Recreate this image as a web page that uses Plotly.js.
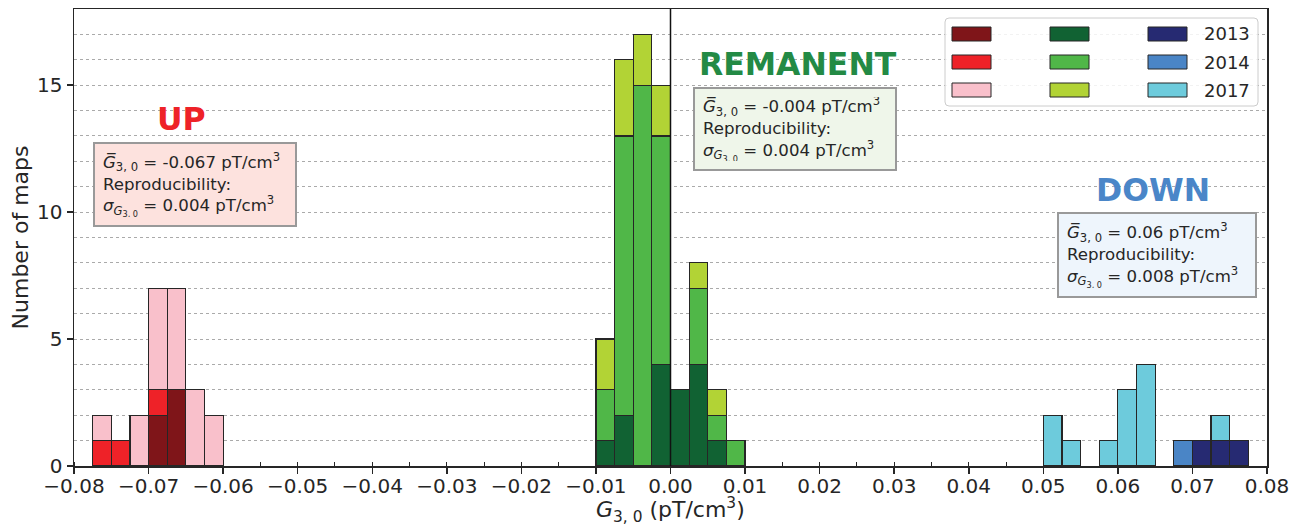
<!DOCTYPE html>
<html>
<head>
<meta charset="utf-8">
<script src="https://cdn.plot.ly/plotly-3.0.1.min.js"></script>
<style>html,body{margin:0;padding:0;background:#fff;}#chart{width:1302px;height:526px;}</style>
</head>
<body>
<div id="chart"></div>
<script>
// ---- data (bin centres, bin width 0.0025 pT/cm^3) ----
const binWidth = 0.0025;
const upBins   = [-0.07625, -0.07375, -0.07125, -0.06875, -0.06625, -0.06375, -0.06125];
const up2013   = [0, 0, 0, 2, 3, 0, 0];
const up2014   = [1, 1, 0, 1, 0, 0, 0];
const up2017   = [1, 0, 2, 4, 4, 3, 2];

const remBins  = [-0.00875, -0.00625, -0.00375, -0.00125, 0.00125, 0.00375, 0.00625, 0.00875];
const rem2013  = [1, 2, 0, 4, 3, 4, 1, 0];
const rem2014  = [2, 11, 15, 9, 0, 3, 1, 1];
const rem2017  = [2, 3, 2, 2, 0, 1, 1, 0];

const downBins = [0.05125, 0.05375, 0.05875, 0.06125, 0.06375, 0.06875, 0.07125, 0.07375, 0.07625];
const down2013 = [0, 0, 0, 0, 0, 0, 1, 1, 1];
const down2014 = [0, 0, 0, 0, 0, 1, 0, 0, 0];
const down2017 = [2, 1, 1, 3, 4, 0, 0, 1, 0];

const years = ['2013', '2014', '2017'];
const xTickVals = [-0.08, -0.07, -0.06, -0.05, -0.04, -0.03, -0.02, -0.01, 0, 0.01, 0.02, 0.03, 0.04, 0.05, 0.06, 0.07, 0.08];
const yTickVals = [0, 5, 10, 15];

const groupLabels = ['UP', 'REMANENT', 'DOWN'];
const groupMeans  = ['-0.067', '-0.004', '0.06'];
const groupSigmas = ['0.004', '0.004', '0.008'];
const xTitle = '<i>G</i><sub>3, 0</sub> (pT/cm<sup>3</sup>)';
const yTitle = 'Number of maps';

// ---- styles ----
const colors = {
  up:   ['#7f1519', '#ee2228', '#f9c0cb'],
  rem:  ['#116233', '#50b748', '#b2d335'],
  down: ['#262a72', '#4a85c6', '#6dcbdc']
};
const labelColors = ['#ee2228', '#238a45', '#4a86c8'];
const boxFills = ['#fde2de', '#eff6ea', '#eef5fc'];
const ink = '#262626';
const FONT = 'DejaVu Sans, sans-serif';

// geometry helpers (plot area in pixels)
const W = 1302, H = 526, L = 74, R = 35, T = 9, B = 60;
const PW = W - L - R, PH = H - T - B;
const px = v => (v - L) / PW;
const py = v => (H - B - v) / PH;

function barTrace(x, y, color, name) {
  return {
    type: 'bar', x: x, y: y, width: binWidth, name: name,
    marker: {color: color, line: {color: ink, width: 1.2}},
    showlegend: false, hoverinfo: 'skip'
  };
}

const traces = [];
[[upBins, [up2013, up2014, up2017], colors.up],
 [remBins, [rem2013, rem2014, rem2017], colors.rem],
 [downBins, [down2013, down2014, down2017], colors.down]].forEach(g => {
  g[1].forEach((vals, i) => traces.push(barTrace(g[0], vals, g[2][i], years[i])));
});

// ---- annotations ----
const annotations = [];
const labelPos = [[181, 119], [798, 64], [1153, 190]];
groupLabels.forEach((t, i) => {
  annotations.push({
    xref: 'paper', yref: 'paper', x: px(labelPos[i][0]), y: py(labelPos[i][1]),
    xanchor: 'center', yanchor: 'middle', showarrow: false,
    text: '<b>' + t + '</b>',
    font: {family: FONT, size: 31.5, color: labelColors[i]}
  });
});
const boxes = [[93, 142, 297, 227], [693, 87, 897, 171], [1057, 212, 1257, 298]];
const BW = 2, BP = 8;
groupLabels.forEach((t, i) => {
  const b = boxes[i];
  annotations.push({
    xref: 'paper', yref: 'paper', x: px(b[0]), y: py(b[1]),
    xanchor: 'left', yanchor: 'top', showarrow: false, align: 'left', valign: 'middle',
    width: b[2] - b[0] - 2 * (BW + BP), height: b[3] - b[1] - 2 * (BW + BP),
    bgcolor: boxFills[i], bordercolor: '#999999', borderwidth: BW, borderpad: BP,
    text: '<i>G\u0305</i><sub>3, 0</sub> = ' + groupMeans[i] + ' pT/cm<sup>3</sup><br>' +
          'Reproducibility:<br>' +
          '<i>\u03c3</i><sub><i>G</i><sub>3, 0</sub></sub> = ' + groupSigmas[i] + ' pT/cm<sup>3</sup>',
    font: {family: FONT, size: 16.6, color: ink}
  });
});
// x-axis title (placed in the bottom margin like the reference)
annotations.push({xref: 'paper', yref: 'paper', x: 0.5, y: py(510), xanchor: 'center', yanchor: 'middle',
  showarrow: false, text: xTitle, font: {family: FONT, size: 22, color: ink}});

// ---- manual legend (3 columns, labels in last column) ----
const shapes = [];
shapes.push({type: 'path', xref: 'paper', yref: 'paper',
  path: (function () {
    const x0 = 945, x1 = 1258, y0 = 18, y1 = 106, r = 4;
    const P = (a, b) => px(a) + ',' + py(b);
    return 'M' + P(x0 + r, y0) + ' L' + P(x1 - r, y0) + ' Q' + P(x1, y0) + ' ' + P(x1, y0 + r) +
      ' L' + P(x1, y1 - r) + ' Q' + P(x1, y1) + ' ' + P(x1 - r, y1) +
      ' L' + P(x0 + r, y1) + ' Q' + P(x0, y1) + ' ' + P(x0, y1 - r) +
      ' L' + P(x0, y0 + r) + ' Q' + P(x0, y0) + ' ' + P(x0 + r, y0) + ' Z';
  })(),
  line: {color: '#cccccc', width: 1}, fillcolor: 'rgba(255,255,255,0.85)', layer: 'above'});
const legCols = [[952, 991, colors.up], [1050, 1089, colors.rem], [1148, 1187, colors.down]];
const legRows = [34, 62, 90];
legCols.forEach(c => {
  legRows.forEach((r, i) => {
    shapes.push({type: 'rect', xref: 'paper', yref: 'paper', x0: px(c[0]), x1: px(c[1]),
      y0: py(r + 7), y1: py(r - 7), fillcolor: c[2][i], line: {color: ink, width: 1}, layer: 'above'});
  });
});
legRows.forEach((r, i) => {
  annotations.push({xref: 'paper', yref: 'paper', x: px(1202), y: py(r), xanchor: 'left', yanchor: 'middle',
    showarrow: false, text: years[i], font: {family: FONT, size: 18, color: ink}});
});
// vertical line at zero
shapes.push({type: 'line', xref: 'x', yref: 'paper', x0: 0, x1: 0, y0: 0, y1: 1,
  line: {color: '#111111', width: 1.5}, layer: 'above'});

const layout = {
  width: W, height: H,
  margin: {l: L, r: R, t: T, b: B, pad: 0},
  paper_bgcolor: '#ffffff', plot_bgcolor: '#ffffff',
  barmode: 'stack', bargap: 0,
  showlegend: false,
  font: {family: FONT, color: ink},
  xaxis: {
    range: [-0.08, 0.08], tickvals: xTickVals, tickformat: '.2f',
    ticks: 'outside', ticklen: 6, tickwidth: 1.5, tickcolor: ink,
    ticklabelstandoff: -5,
    showline: true, linecolor: ink, linewidth: 1.5, mirror: true,
    showgrid: false, zeroline: false,
    tickfont: {family: FONT, size: 20, color: ink},
    minor: {dtick: 0.005, tick0: 0, ticks: 'inside', ticklen: 4, tickwidth: 1, tickcolor: ink, showgrid: false}
  },
  yaxis: {
    range: [0, 18], tickvals: yTickVals,
    ticks: 'outside', ticklen: 6, tickwidth: 1.5, tickcolor: ink,
    showline: true, linecolor: ink, linewidth: 1.5, mirror: true,
    showgrid: true, gridcolor: '#aaaaaa', griddash: 'dot', gridwidth: 1,
    zeroline: false,
    tickfont: {family: FONT, size: 20, color: ink},
    minor: {dtick: 1, tick0: 0, ticks: '', showgrid: true, gridcolor: '#aaaaaa', griddash: 'dot', gridwidth: 1},
    title: {text: yTitle, font: {family: FONT, size: 22, color: ink}, standoff: 2}
  },
  shapes: shapes,
  annotations: annotations
};

Plotly.newPlot('chart', traces, layout, {displayModeBar: false, staticPlot: true});
</script>
</body>
</html>
